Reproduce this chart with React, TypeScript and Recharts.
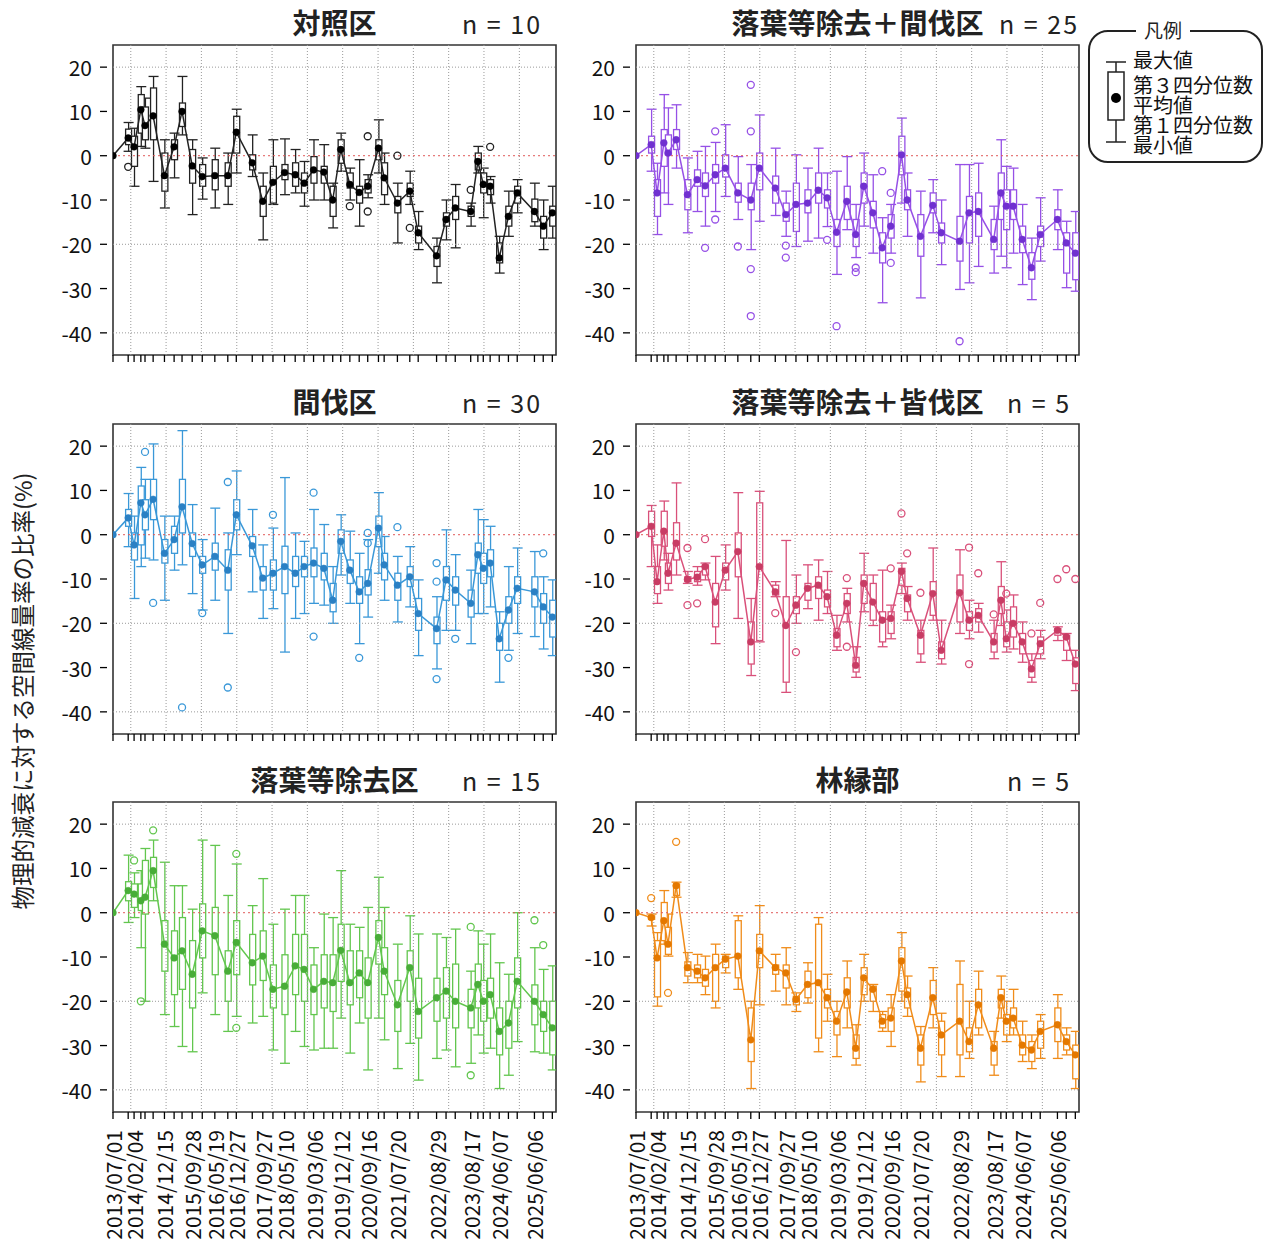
import React from "react";
import {
  Bar,
  ComposedChart,
  Line,
  ReferenceArea,
  ReferenceLine,
  Scatter,
  XAxis,
  YAxis,
} from "recharts";

// measurement dates (tick at each one)
const dates = [
  "2013/07/01", "2013/12/05", "2014/02/04", "2014/04/15", "2014/05/28", "2014/08/20",
  "2014/12/15", "2015/03/25", "2015/06/15", "2015/09/28", "2016/01/10", "2016/05/19",
  "2016/09/30", "2016/12/27", "2017/06/10", "2017/09/27", "2018/01/10", "2018/05/10",
  "2018/08/28", "2018/11/28", "2019/03/06", "2019/06/20", "2019/09/20", "2019/12/12",
  "2020/03/15", "2020/06/20", "2020/09/16", "2021/01/05", "2021/03/05", "2021/07/20",
  "2021/11/25", "2022/02/20", "2022/08/29", "2022/12/05", "2023/03/10", "2023/08/17",
  "2023/10/30", "2023/12/25", "2024/03/05", "2024/06/07", "2024/09/10", "2024/12/10",
  "2025/06/06", "2025/09/05", "2025/12/08",
];

const labelDates = [
  "2013/07/01", "2014/02/04", "2014/12/15", "2015/09/28", "2016/05/19", "2016/12/27",
  "2017/09/27", "2018/05/10", "2019/03/06", "2019/12/12", "2020/09/16", "2021/07/20",
  "2022/08/29", "2023/08/17", "2024/06/07", "2025/06/06",
];

const yTicks = [-40, -30, -20, -10, 0, 10, 20];
const gridY = [20, -20, -40];
const yearLines = [2014, 2015, 2016, 2017, 2018, 2019, 2020, 2021, 2022, 2023, 2024, 2025];

// [min, q1, mean, q3, max] per date
type S = [number, number, number, number, number];

const ctrlStats: S[] = [
  [0, 0, 0, 0, 0], [1, 2.5, 4, 6, 7.5], [-6.9, -2.4, 2, 4.4, 6.2], [2.1, 5.1, 10.4, 13.8, 15.6],
  [1.7, 3.6, 6.8, 11, 13], [-5.8, 3.6, 9, 15.3, 17.9], [-11.8, -8, -4.5, 0.6, 3.6],
  [-5, -0.9, 2, 3.6, 5.1], [4.7, 6.6, 10, 11.9, 17.9], [-13.3, -6.2, -2.3, 1.4, 3.6],
  [-9.8, -6.9, -4.7, -2, -0.5], [-11.8, -7.7, -4.5, -0.9, 1.7], [-11, -6.9, -4.5, -1.6, 0.6],
  [-3.9, 0.6, 5.3, 8.9, 10.5], [-4.7, -3.2, -1.6, 0.2, 4.7], [-19, -13.7, -10.3, -6.9, -3.9],
  [-11, -10.7, -6, -2.4, 3.6], [-8.8, -5.4, -3.8, -2, 3.8], [-8.4, -6.9, -4.3, -1.6, 1.4],
  [-11.4, -8.4, -6.2, -3.9, -1.3], [-10, -6.2, -3.2, -0.2, 3.6], [-10, -6.2, -3.7, -2.4, 2.5],
  [-16.3, -13.7, -10, -6.9, -6.2], [-3.5, -1.7, 1.4, 3.6, 5.1], [-10, -7.3, -6.5, -3.9, -2.8],
  [-15.9, -10.7, -8.3, -6.9, -0.9], [-9.5, -8.4, -6.9, -5.4, -4.3], [-3.9, -0.9, 1.7, 3.6, 8.1],
  [-11, -8.8, -5, -1.6, 0.6], [-19.7, -12.9, -10.7, -9.2, -6.2], [-11, -9.2, -8, -6.2, -3.5],
  [-21.2, -19.7, -17.4, -15.9, -12.6], [-28.7, -25, -22.6, -20.5, -18.6], [-19, -15.9, -14.4, -12.9, -10],
  [-20.8, -14.4, -11.8, -9.2, -6.5], [-15.9, -13.7, -12.6, -11.4, -10.7], [-3.9, -3.2, -1.3, 0.6, 2.1],
  [-14, -8.4, -6.5, -3.9, -2.8], [-10.7, -8.8, -6.9, -5.4, -4.7], [-26.5, -24.2, -23.1, -19.7, -18.2],
  [-18.2, -15.9, -13.7, -11.4, -8], [-12.9, -10.7, -8.4, -6.9, -5.4], [-15.9, -14.9, -12.6, -9.8, -6.2],
  [-21.2, -18.6, -15.9, -13.7, -10], [-18.6, -15.9, -12.9, -11.4, -6.9],
];
const ctrlOut: [string, number][] = [
  ["2013/12/05", -2.5], ["2020/03/15", -11.4], ["2020/09/16", 4.4], ["2020/09/16", -12.6],
  ["2021/07/20", 0], ["2021/11/25", -16.3], ["2023/08/17", -7.7], ["2024/03/05", 2],
];

const thinPlusStats: S[] = [
  [0, 0, 0, 0, 0], [-3.5, 0.6, 2.5, 4.4, 10.5], [-17.8, -13.7, -8.4, -5.4, -1.7], [-8.4, -2.4, 2.9, 5.9, 13.8],
  [-11, 0.2, 0.6, 4.7, 10.8], [-2.8, 1.4, 3.6, 5.9, 11.5], [-17.4, -12.2, -8.8, -5.4, -0.5],
  [-12.6, -6.9, -5.4, -3.2, 1], [-15.9, -9.2, -6.8, -3.9, 2.1], [-12.6, -6.2, -4.3, -2, 3],
  [-9.2, -4.8, -2.8, 0.2, 7], [-14.4, -10.5, -8.4, -6.2, -0.2], [-21.2, -12.2, -10, -6.2, -2],
  [-14.8, -7.7, -2.8, 0.6, 9.2], [-13.5, -10.7, -7.3, -4.6, 1.7], [-18.2, -14.8, -13.3, -10.7, -8],
  [-20.5, -17.1, -11, -6.2, 0.2], [-19.3, -12.9, -10.7, -7.7, -2.8], [-18.6, -10.7, -7.8, -3.9, 1.7],
  [-16, -11.8, -9.5, -7.7, -3.9], [-26.8, -20.5, -17.3, -14.4, -3.5], [-16.7, -14.4, -10.3, -6.9, -0.2],
  [-23, -20.5, -17.8, -14.4, -11], [-15.9, -10.7, -6.9, -3.9, 0.6], [-22, -16.3, -12.9, -10.3, -4.3],
  [-33.2, -24.2, -20.8, -17.4, -14], [-22, -18.6, -15.9, -13.3, -11], [-10.7, -4.3, 0.2, 4.4, 8.5],
  [-18.2, -12.2, -10, -7.7, -3.9], [-32.1, -22.7, -18.2, -13.3, -8], [-17.4, -12.9, -11.2, -8.4, -5.4],
  [-24.6, -19.7, -17.4, -15.2, -10], [-30.2, -23.8, -19.3, -13.7, -2], [-28.7, -19.7, -12.9, -9.2, -2],
  [-25, -18.2, -12.6, -8.4, -1.7], [-26.5, -21.2, -18.9, -14.4, -11.4], [-22.7, -14.4, -8.4, -3.9, 3.6],
  [-25.3, -16.7, -11.4, -7.7, -2.4], [-22, -14.4, -11.4, -7.7, -2.8], [-29.1, -21.9, -18.9, -15.9, -11],
  [-32.5, -27.9, -25.3, -21.9, -18.6], [-23.8, -20.5, -17.8, -15.9, -9.5], [-21.2, -16.7, -14.4, -12.2, -7.7],
  [-29.8, -26.5, -19.7, -17.4, -14.8], [-30.6, -28, -22, -17.4, -12.6],
];
const thinPlusOut: [string, number][] = [
  ["2015/06/15", -20.8], ["2015/09/28", 5.5], ["2015/09/28", -14.4], ["2016/05/19", -20.5],
  ["2016/09/30", 16], ["2016/09/30", 5.5], ["2016/09/30", -25.6], ["2016/09/30", -36.2],
  ["2017/09/27", -20.3], ["2017/09/27", -23], ["2018/11/28", -19], ["2019/03/06", -38.5],
  ["2019/09/20", -25.3], ["2019/09/20", -26.3], ["2020/06/20", -3.5], ["2020/09/16", -8.4],
  ["2020/09/16", -24.2], ["2022/08/29", -41.9],
];

const thinStats: S[] = [
  [0, 0, 0, 0, 0], [-2.7, 1.9, 3.8, 5.7, 9.3], [-14.4, -5.7, -2.3, 0.4, 4.2], [-7.2, -2.3, 7.2, 11, 15.2],
  [-5.3, 1.1, 4.5, 7.9, 12.5], [-5.7, 3.4, 8, 12.5, 20.5], [-14.8, -6.4, -4.2, -1.1, 4.2],
  [-8, -4.2, -1.1, 1.9, 4.2], [-6.8, 0.4, 6.3, 12.5, 23.5], [-13.3, -4.9, -2, 0.4, 6.8],
  [-17, -8.7, -6.8, -4.9, -1.1], [-14.8, -8, -4.9, -1.9, 6], [-22.3, -12.5, -8, -3.4, 0.4],
  [-4.5, 1.1, 4.5, 7.9, 14.4], [-12.9, -4.9, -2.5, -0.4, 5.7], [-18.9, -12.5, -9.8, -7.2, -2.3],
  [-16.7, -12.5, -8.7, -5.7, 1.5], [-26.5, -13.3, -7.2, -2.6, 12.9], [-18.9, -11.7, -8.7, -4.9, 0.4],
  [-17.8, -9.5, -7.2, -4.9, -1.5], [-15.5, -9.5, -6.4, -3, 5.7], [-15.9, -10.2, -7.6, -4.2, 2.3],
  [-20, -17.4, -14.8, -11, -7.2], [-9.1, -4.2, -1.5, 1.1, 4.5], [-15.5, -11, -8, -5.7, 0.8],
  [-24.6, -15.5, -12.9, -9.5, -4.2], [-18.6, -13.6, -11, -7.9, -1.1], [-8.7, -2.7, 1.5, 4.2, 9.5],
  [-14.8, -10.2, -6.8, -4.2, -0.4], [-19.7, -14.8, -11.4, -8.7, -4.9], [-16.3, -11.7, -9.5, -7.2, -2.7],
  [-27.3, -21.6, -17.8, -14.4, -10.2], [-30.3, -24.6, -21.2, -18.6, -14], [-21.6, -14.8, -10.2, -7.2, 1.1],
  [-21.6, -15.9, -12.5, -9.5, -4.5], [-24.6, -18.6, -15.5, -12.5, -8], [-17.8, -8.7, -4.5, -1.9, 5.7],
  [-17.8, -11, -7.6, -4.2, 3.4], [-16.3, -9.5, -6.4, -3.4, 1.9], [-33.3, -26.1, -23.5, -20, -17.4],
  [-26.1, -20, -17, -14, -7.2], [-22.3, -15.5, -12.1, -9.5, -3], [-23, -16.3, -12.9, -9.5, -3.8],
  [-25.8, -20, -16.3, -13.3, -9.5], [-27.3, -23.1, -18.6, -14.8, -10.2],
];
const thinOut: [string, number][] = [
  ["2014/05/28", 18.7], ["2014/08/20", -15.4], ["2015/06/15", -39], ["2016/01/10", -17.7],
  ["2016/09/30", 11.9], ["2016/09/30", -34.5], ["2018/01/10", 4.5], ["2019/03/06", 9.5],
  ["2019/03/06", -23], ["2020/06/20", -27.8], ["2020/09/16", 0.4], ["2020/09/16", -1.9],
  ["2021/07/20", 1.7], ["2022/08/29", -6.4], ["2022/08/29", -10.6], ["2022/08/29", -32.6],
  ["2023/03/10", -23.5], ["2024/09/10", -27.8], ["2025/09/05", -4.2],
];

const clearStats: S[] = [
  [0, 0, 0, 0, 0], [-7.2, -0.4, 1.9, 5.3, 6.6], [-15.5, -13.3, -10.6, -7.2, -2.3], [-5.7, -2.6, 0.8, 5.3, 7.6],
  [-12.5, -11, -8.7, -6.4, -4.2], [-9.1, -5.7, -1.9, 2.7, 11.7], [-11, -10.6, -10.1, -9.5, -8.3],
  [-11.4, -10.6, -9.6, -8.3, -7.2], [-10.2, -9.1, -7.2, -6.8, -6.4], [-24.6, -20.8, -15.2, -11, -4.9],
  [-12.5, -10.2, -8, -6.4, -2.3], [-18.9, -9.5, -3.8, 0.4, 9.5], [-31.8, -29.2, -24.2, -19.7, -14.4],
  [-24.2, -23.9, -7.2, 7.2, 9.8], [-14, -13.6, -12.9, -11.4, -10.6], [-35.6, -33.3, -20.5, -14, -1.3],
  [-20, -17.8, -15.9, -14, -9.1], [-16.7, -14.8, -12.1, -11, -6.8], [-19.3, -14.4, -11.4, -9.5, -5.7],
  [-17.8, -16.3, -14, -12.5, -8.3], [-26.1, -25.3, -22.7, -21.2, -18.2], [-19.7, -17.8, -15.5, -13.3, -12.1],
  [-32.2, -31, -29.5, -27.7, -25.3], [-17.4, -15.5, -11, -9.1, -4.2], [-20.5, -19.3, -15.2, -11, -9.1],
  [-25.3, -24.2, -19.3, -17.4, -8], [-23.5, -22.3, -18.9, -17.4, -15.9], [-13.3, -11.4, -8.3, -7.6, -6.4],
  [-19.3, -17.4, -14.4, -13.6, -11.7], [-28.8, -26.9, -22.7, -21.6, -19.3], [-19.3, -18.2, -13.3, -10.6, -3],
  [-29.2, -28, -26.1, -24.2, -19.3], [-22.3, -19.7, -13.1, -9.1, -3.4], [-23.5, -21.6, -19.3, -17.4, -14.8],
  [-22, -19.7, -18.2, -16.7, -15.5], [-28, -26.5, -24.2, -22.3, -19.3], [-20.5, -17.8, -14.8, -11.7, -6.1],
  [-26.5, -25.3, -23.5, -19.7, -17], [-25.8, -23.1, -20, -16.3, -13.6], [-28.8, -26.9, -24.2, -22.3, -19.7],
  [-33.3, -32.2, -30.3, -28.4, -26.9], [-28, -26.9, -24.6, -23.1, -21.6], [-23.9, -22.7, -21.6, -21.2, -20.8],
  [-28.4, -26.1, -23.1, -22.7, -22.3], [-35.2, -33.6, -29.2, -27.8, -26.1],
];
const clearOut: [string, number][] = [
  ["2014/12/15", -3], ["2014/12/15", -15.9], ["2015/03/25", -15.5], ["2015/06/15", -1],
  ["2017/06/10", -17.7], ["2018/01/10", -26.5], ["2019/06/20", -9.8], ["2019/06/20", -25.3],
  ["2020/09/16", -7.6], ["2021/01/05", 4.8], ["2021/03/05", -4.2], ["2021/07/20", -13.1],
  ["2022/12/05", -2.9], ["2022/12/05", -29.2], ["2023/03/10", -8.7], ["2023/08/17", -18],
  ["2023/12/25", -13.3], ["2024/09/10", -22.3], ["2024/12/10", -15.4], ["2025/06/06", -10],
  ["2025/09/05", -7.8], ["2025/12/08", -10],
];

const litterStats: S[] = [
  [0, 0, 0, 0, 0], [-2.2, 2.7, 5, 7, 13], [-1.1, 1.2, 4.2, 6.5, 9], [-7.9, 0.5, 2.7, 6.5, 9.5],
  [-20, -0.3, 3.5, 11.8, 14.5], [2.7, 5.7, 9.5, 12.5, 16.4], [-23, -13.2, -7.1, -1.8, 11.4],
  [-25.7, -18.5, -10.2, -4.1, 6.1], [-30.2, -17.3, -8.6, -1.1, 6.1], [-31.4, -21.5, -13.9, -6.3, 0.8],
  [-18.1, -10.2, -4.1, 2, 16.4], [-23, -14, -5.2, 1.2, 15.2], [-26.8, -20, -13.2, -8.6, 3.9],
  [-23.4, -14, -6.7, -1.8, 11], [-24.9, -16.3, -11.3, -4.9, 1.6], [-23.4, -15.3, -9.8, -4.1, 7.7],
  [-31, -21.5, -17.3, -11.8, -2.6], [-34, -23, -16.6, -9.5, 0.8], [-26.8, -18.5, -12, -4.9, 3.9],
  [-30.2, -20, -12.8, -4.9, 3.9], [-31, -23, -17.3, -11.8, -7.9], [-30.6, -21.5, -15.5, -9.5, -0.3],
  [-30.6, -22.3, -15.8, -9.5, -1.1], [-23.8, -15.5, -8.5, -2.6, 9.5], [-31.7, -20.8, -15.8, -8.6, -2.6],
  [-24.9, -19.2, -13.6, -8.6, -3.3], [-35.5, -23.8, -15.8, -10.2, 1.2], [-23.8, -11.6, -5.6, -1.8, 8],
  [-28.7, -18.5, -13.2, -7.9, 1.2], [-35.2, -26.8, -20.8, -15.3, -7.1], [-29.5, -20, -12.4, -8.6, -0.7],
  [-37.8, -28.3, -22.3, -14.8, -4.8], [-32.9, -24.5, -19.2, -14.8, -4.8], [-31, -23.8, -17.7, -12.4, -5.6],
  [-34.8, -26, -20, -11.6, -3.7], [-34, -26, -21.5, -17.3, -13.2], [-27.6, -21.5, -16.2, -11.6, -4.1],
  [-31.7, -24.5, -20, -15.3, -7.1], [-30.6, -23.8, -18.5, -14.8, -4.8], [-39.7, -32.1, -26.8, -21.5, -11.3],
  [-36.7, -30.6, -24.9, -20, -13.9], [-29.1, -21.5, -15.5, -10.2, 0], [-31.4, -25.3, -20, -16.3, -7.9],
  [-31.7, -26.8, -23, -20, -12.8], [-35.5, -32.1, -26, -20, -12],
];
const litterOut: [string, number][] = [
  ["2014/02/04", 11.8], ["2014/04/15", -20], ["2014/08/20", 18.6], ["2016/12/27", 13.3],
  ["2016/12/27", -26], ["2023/08/17", -3.2], ["2023/08/17", -36.7], ["2025/06/06", -1.7],
  ["2025/09/05", -7.3],
];

const edgeStats: S[] = [
  [0, 0, 0, 0, 0], [-3, -1.5, -1.1, -0.7, -0.3], [-21.1, -19, -10.2, -6.3, -4.5], [-7.1, -6.3, -1.8, 2.3, 5],
  [-9.8, -9.4, -7.1, -3.3, -0.3], [3.5, 3.9, 6.1, 6.5, 6.9], [-15.8, -14.3, -12.4, -11.1, -9],
  [-15.8, -14.7, -13.2, -11.8, -9.4], [-18.5, -16.6, -14.7, -12.8, -9.8], [-21.5, -20, -12.4, -9.4, -7.1],
  [-13.6, -12.4, -10.5, -9.8, -9.4], [-17.3, -14.7, -9.8, -1.8, -0.7], [-39.7, -33.6, -28.7, -21.5, -20],
  [-20.8, -12.4, -8.6, -4.9, 1.6], [-17.7, -13.9, -12.4, -11.8, -9.4], [-20.8, -17, -13.6, -11.8, -7.9],
  [-22.3, -20.8, -19.6, -18.9, -18.1], [-20.4, -19.2, -16.2, -13.2, -11.3], [-31.4, -28.3, -15.8, -2.6, -1.1],
  [-24.5, -21.5, -19.2, -17.3, -13.9], [-32.5, -27.6, -24.5, -22.3, -20], [-26, -21.5, -17.9, -14.7, -10.9],
  [-34.4, -32.9, -30.6, -27.6, -25.3], [-20, -18.5, -14.7, -12.4, -9.4], [-22.3, -20, -17.3, -16.6, -16.2],
  [-26.8, -26, -24.5, -23, -22.3], [-30.2, -26.8, -23.8, -21.5, -18.5], [-20, -17.7, -10.9, -7.9, -4.5],
  [-23.4, -21.5, -18.5, -17, -14.3], [-38.2, -34.4, -30.6, -27.6, -25.7], [-26, -23, -19.2, -15.3, -12.4],
  [-37, -32.1, -27.6, -24.5, -22.7], [-37, -32.1, -24.5, -16.2, -10.9], [-32.9, -31.4, -29.1, -26, -20],
  [-27.6, -26, -20.8, -17.3, -13.2], [-36.7, -34.4, -30.6, -29.1, -26.8], [-23.8, -21.5, -19.2, -17.3, -14.3],
  [-29.1, -27.6, -24.5, -23, -20], [-27.6, -26, -23.8, -21.5, -17.3], [-33.6, -32.1, -29.9, -27.6, -24.5],
  [-35.2, -33.6, -31, -29.1, -27.6], [-32.9, -30.6, -26.8, -24.5, -23], [-32.9, -29.1, -25.3, -21.5, -18.5],
  [-32.1, -31, -29.1, -27.6, -26], [-39.7, -37.5, -32.1, -29.9, -26.8],
];
const edgeOut: [string, number][] = [
  ["2013/12/05", 3.3], ["2014/05/28", -18.1], ["2014/08/20", 16],
];

const legendItems = ["最大値", "第３四分位数", "平均値", "第１四分位数", "最小値"];

const ts = (s: string) => {
  const [y, m, d] = s.split("/").map(Number);
  return Date.UTC(y, m - 1, d);
};
const X0 = ts("2013/07/01");
const X1 = ts("2026/01/15");
const tickTs = dates.map(ts);
const labelByT = new Map(labelDates.map((d) => [ts(d), d]));
const FONT = "'Noto Sans CJK JP', 'Noto Sans', sans-serif";

const PLOT_W = 443;
const PLOT_H = 310;
const Y_W = 60;

function makeWhisker(color: string) {
  return (p: any) => {
    if (p.payload.first) return <g />;
    const cx = p.x + p.width / 2;
    const y1 = Math.min(p.y, p.y + p.height);
    const y2 = Math.max(p.y, p.y + p.height);
    return (
      <g stroke={color} strokeWidth={1.3}>
        <line x1={cx} x2={cx} y1={y1} y2={y2} />
        <line x1={cx - 5} x2={cx + 5} y1={y1} y2={y1} />
        <line x1={cx - 5} x2={cx + 5} y1={y2} y2={y2} />
      </g>
    );
  };
}

function makeBox(color: string) {
  return (p: any) => {
    if (p.payload.first) return <g />;
    const cx = p.x + p.width / 2;
    const y1 = Math.min(p.y, p.y + p.height);
    const h = Math.abs(p.height);
    return <rect x={cx - 3} y={y1} width={6} height={h} fill="#fff" stroke={color} strokeWidth={1.3} />;
  };
}

function YTick({ x, y, payload }: any) {
  return (
    <g>
      <line x1={x - 13} x2={x - 6} y1={y} y2={y} stroke="#000" strokeWidth={1.3} />
      <text x={x - 21} y={y} textAnchor="end" dominantBaseline="central" fontSize={21} fontFamily={FONT} fill="#111">
        {payload.value}
      </text>
    </g>
  );
}

function makeXTick(showLabels: boolean) {
  return ({ x, y, payload }: any) => {
    const label = showLabels ? labelByT.get(payload.value) : undefined;
    return (
      <g>
        <line x1={x} x2={x} y1={y} y2={y + 7} stroke="#000" strokeWidth={1.3} />
        {label && (
          <text
            x={x}
            y={y + 18}
            transform={`rotate(-90 ${x} ${y + 18})`}
            textAnchor="end"
            dominantBaseline="central"
            fontSize={21}
            fontFamily={FONT}
            fill="#111"
          >
            {label}
          </text>
        )}
      </g>
    );
  };
}

interface PanelProps {
  left: number;
  top: number;
  stats: S[];
  outliers: [string, number][];
  color: string;
  dotColor: string;
  showLabels: boolean;
  title: string;
  n: number;
  nCenter: number;
}

function Panel({ left, top, stats, outliers, color, dotColor, showLabels, title, n, nCenter }: PanelProps) {
  const rows = dates.map((d, i) => {
    const [mn, q1, mean, q3, mx] = stats[i];
    return { t: ts(d), mean, whisk: [mn, mx], box: [q1, q3], first: i === 0 };
  });
  const outRows = outliers.map(([d, v]) => ({ t: ts(d), v }));
  const xH = showLabels ? 140 : 12;
  return (
    <>
      <div
        style={{
          position: "absolute",
          left: left + PLOT_W / 2 - 200,
          width: 400,
          top: top - 37,
          lineHeight: "28px",
          textAlign: "center",
          fontFamily: FONT,
          fontSize: 28,
          fontWeight: 700,
          color: "#222",
        }}
      >
        {title}
      </div>
      <div
        style={{
          position: "absolute",
          left: nCenter - 60,
          width: 120,
          top: top - 35,
          lineHeight: "26px",
          textAlign: "center",
          fontFamily: FONT,
          fontSize: 25,
          letterSpacing: 2,
          color: "#222",
          whiteSpace: "pre",
        }}
      >
        {`n = ${n}`}
      </div>
      <div style={{ position: "absolute", left: left - Y_W, top: top - 5 }}>
        <ComposedChart
          width={Y_W + PLOT_W + 5}
          height={5 + PLOT_H + xH}
          data={rows}
          margin={{ top: 5, right: 5, bottom: 0, left: 0 }}
        >
          <XAxis
            xAxisId="main"
            dataKey="t"
            type="number"
            domain={[X0, X1]}
            ticks={tickTs}
            interval={0}
            allowDataOverflow
            axisLine={false}
            tickLine={false}
            tickSize={0}
            tickMargin={0}
            height={xH}
            tick={makeXTick(showLabels)}
          />
          <XAxis xAxisId="zw" dataKey="t" type="number" domain={[X0, X1]} allowDataOverflow height={0} hide />
          <XAxis xAxisId="zb" dataKey="t" type="number" domain={[X0, X1]} allowDataOverflow height={0} hide />
          <YAxis
            type="number"
            domain={[-45, 25]}
            ticks={yTicks}
            interval={0}
            allowDataOverflow
            axisLine={false}
            tickLine={false}
            tickSize={0}
            tickMargin={0}
            width={Y_W}
            tick={<YTick />}
          />
          {gridY.map((v) => (
            <ReferenceLine key={v} xAxisId="main" y={v} stroke="#9a9a9a" strokeDasharray="1 2" />
          ))}
          {yearLines.map((yr) => (
            <ReferenceLine
              key={yr}
              xAxisId="main"
              x={Date.UTC(yr, 0, 1)}
              stroke="#9a9a9a"
              strokeDasharray="1 2"
            />
          ))}
          <ReferenceLine xAxisId="main" y={0} stroke="#e05a5a" strokeDasharray="2 3" />
          <Bar xAxisId="zw" dataKey="whisk" barSize={1} shape={makeWhisker(color)} isAnimationActive={false} />
          <Bar xAxisId="zb" dataKey="box" barSize={1} shape={makeBox(color)} isAnimationActive={false} />
          <Line
            xAxisId="main"
            dataKey="mean"
            stroke={color}
            strokeWidth={1.5}
            dot={{ r: 3.4, fill: dotColor, stroke: dotColor, strokeWidth: 0.5 }}
            isAnimationActive={false}
          />
          <Scatter
            xAxisId="main"
            data={outRows}
            dataKey="v"
            isAnimationActive={false}
            shape={(p: any) => (
              <circle cx={p.cx} cy={p.cy} r={3.5} fill="none" stroke={color} strokeWidth={1.3} />
            )}
          />
          <ReferenceArea
            xAxisId="main"
            x1={X0}
            x2={X1}
            y1={-45}
            y2={25}
            fill="none"
            stroke="#333"
            strokeWidth={1.6}
            ifOverflow="visible"
          />
        </ComposedChart>
      </div>
    </>
  );
}

function Legend() {
  const lineTops = [18, 43, 63, 83, 103];
  return (
    <div
      style={{
        position: "absolute",
        left: 1088,
        top: 30,
        width: 171,
        height: 129,
        border: "2px solid #222",
        borderRadius: 20,
        fontFamily: FONT,
      }}
    >
      <div
        style={{
          position: "absolute",
          left: 46,
          top: -13,
          padding: "0 8px",
          background: "#fff",
          fontSize: 19,
          lineHeight: "22px",
          color: "#222",
        }}
      >
        凡例
      </div>
      <svg style={{ position: "absolute", left: 14, top: 20 }} width={24} height={96}>
        <g stroke="#222" strokeWidth={1.5} fill="none">
          <line x1={12} x2={12} y1={10} y2={90} />
          <line x1={2} x2={22} y1={10} y2={10} />
          <line x1={2} x2={22} y1={90} y2={90} />
          <rect x={4} y={20} width={16} height={48} fill="#fff" />
        </g>
        <circle cx={12} cy={46} r={5} fill="#000" />
      </svg>
      {legendItems.map((s, i) => (
        <div
          key={s}
          style={{
            position: "absolute",
            left: 43,
            top: lineTops[i],
            fontSize: 20,
            lineHeight: "20px",
            height: 20,
            whiteSpace: "nowrap",
            color: "#111",
          }}
        >
          {s}
        </div>
      ))}
    </div>
  );
}

export default function App() {
  const L = 113;
  const R = 636;
  const rows = [45, 424, 802];
  return (
    <div style={{ position: "absolute", left: 0, top: 0, width: 1278, height: 1243, background: "#fff" }}>
      <Panel left={L} top={rows[0]} stats={ctrlStats} outliers={ctrlOut} color="#222" dotColor="#000" showLabels={false} title="対照区" n={10} nCenter={502} />
      <Panel left={R} top={rows[0]} stats={thinPlusStats} outliers={thinPlusOut} color="#9650e6" dotColor="#7030d0" showLabels={false} title="落葉等除去＋間伐区" n={25} nCenter={1039} />
      <Panel left={L} top={rows[1]} stats={thinStats} outliers={thinOut} color="#3a98d8" dotColor="#2a80c4" showLabels={false} title="間伐区" n={30} nCenter={502} />
      <Panel left={R} top={rows[1]} stats={clearStats} outliers={clearOut} color="#d9507a" dotColor="#c83c64" showLabels={false} title="落葉等除去＋皆伐区" n={5} nCenter={1039} />
      <Panel left={L} top={rows[2]} stats={litterStats} outliers={litterOut} color="#62c64e" dotColor="#48ad38" showLabels={true} title="落葉等除去区" n={15} nCenter={502} />
      <Panel left={R} top={rows[2]} stats={edgeStats} outliers={edgeOut} color="#f08c1a" dotColor="#e47800" showLabels={true} title="林縁部" n={5} nCenter={1039} />
      <div
        style={{
          position: "absolute",
          left: 22 - 260,
          top: 691 - 13,
          width: 520,
          lineHeight: "26px",
          textAlign: "center",
          transform: "rotate(-90deg)",
          fontFamily: FONT,
          fontSize: 23.5,
          color: "#222",
        }}
      >
        物理的減衰に対する空間線量率の比率(%)
      </div>
      <Legend />
    </div>
  );
}
